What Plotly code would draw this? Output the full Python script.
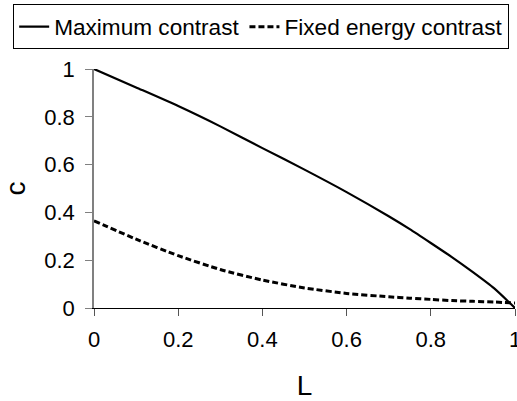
import plotly.graph_objects as go

L_vals = [0.0, 0.1, 0.2, 0.3, 0.4, 0.5, 0.6, 0.7, 0.75, 0.8, 0.85, 0.9, 0.95, 1.0]
max_contrast = [1.0, 0.923, 0.845, 0.76, 0.669, 0.579, 0.485, 0.384, 0.33, 0.272, 0.213, 0.15, 0.083, 0.0]
fixed_energy_contrast = [0.365, 0.288, 0.219, 0.161, 0.117, 0.084, 0.061, 0.047, 0.041, 0.036, 0.031, 0.028, 0.025, 0.021]

x_ticks = [0, 0.2, 0.4, 0.6, 0.8, 1.0]
x_ticktext = ["0", "0.2", "0.4", "0.6", "0.8", "1"]
y_ticks = [0, 0.2, 0.4, 0.6, 0.8, 1.0]
y_ticktext = ["0", "0.2", "0.4", "0.6", "0.8", "1"]

FONT = "Liberation Sans, Arial, sans-serif"

fig = go.Figure()
fig.add_trace(go.Scatter(x=L_vals, y=max_contrast, mode="lines", name="Maximum contrast",
                         line=dict(color="black", width=2.2, shape="spline", smoothing=0.6),
                         cliponaxis=False))
fig.add_trace(go.Scatter(x=L_vals, y=fixed_energy_contrast, mode="lines", name="Fixed energy contrast",
                         line=dict(color="black", width=3, dash="6px,3px", shape="spline", smoothing=0.6),
                         cliponaxis=False))

fig.update_layout(
    width=517, height=401,
    margin=dict(l=94, r=1.5, t=69, b=93, autoexpand=False),
    paper_bgcolor="white", plot_bgcolor="white",
    font=dict(family=FONT, size=22, color="black"),
    showlegend=True,
    legend=dict(orientation="h", xref="paper", yref="paper",
                x=-0.192, xanchor="left", y=1.27, yanchor="top",
                bordercolor="black", borderwidth=1, bgcolor="white",
                font=dict(family=FONT, size=22.6, color="black"),
                itemwidth=30, tracegroupgap=0),
    xaxis=dict(range=[0, 1], tickvals=x_ticks, ticktext=x_ticktext,
               showline=True, linecolor="black", linewidth=1,
               ticks="outside", ticklen=7, tickcolor="#555555", tickwidth=1,
               showgrid=False, zeroline=False, ticklabelstandoff=5,
               ticklabeloverflow="allow",
               title=dict(text="L", font=dict(size=28), standoff=29)),
    yaxis=dict(range=[0, 1], tickvals=y_ticks, ticktext=y_ticktext,
               showline=True, linecolor="#808080", linewidth=1.5,
               ticks="outside", ticklen=7, tickcolor="#808080", tickwidth=1,
               showgrid=False, zeroline=False, ticklabelstandoff=6,
               title=dict(text="c", font=dict(size=28), standoff=12)),
)

fig.write_html("out.html", config={"displayModeBar": False},
               post_script="document.body.style.margin='0';document.body.style.overflow='hidden';")
